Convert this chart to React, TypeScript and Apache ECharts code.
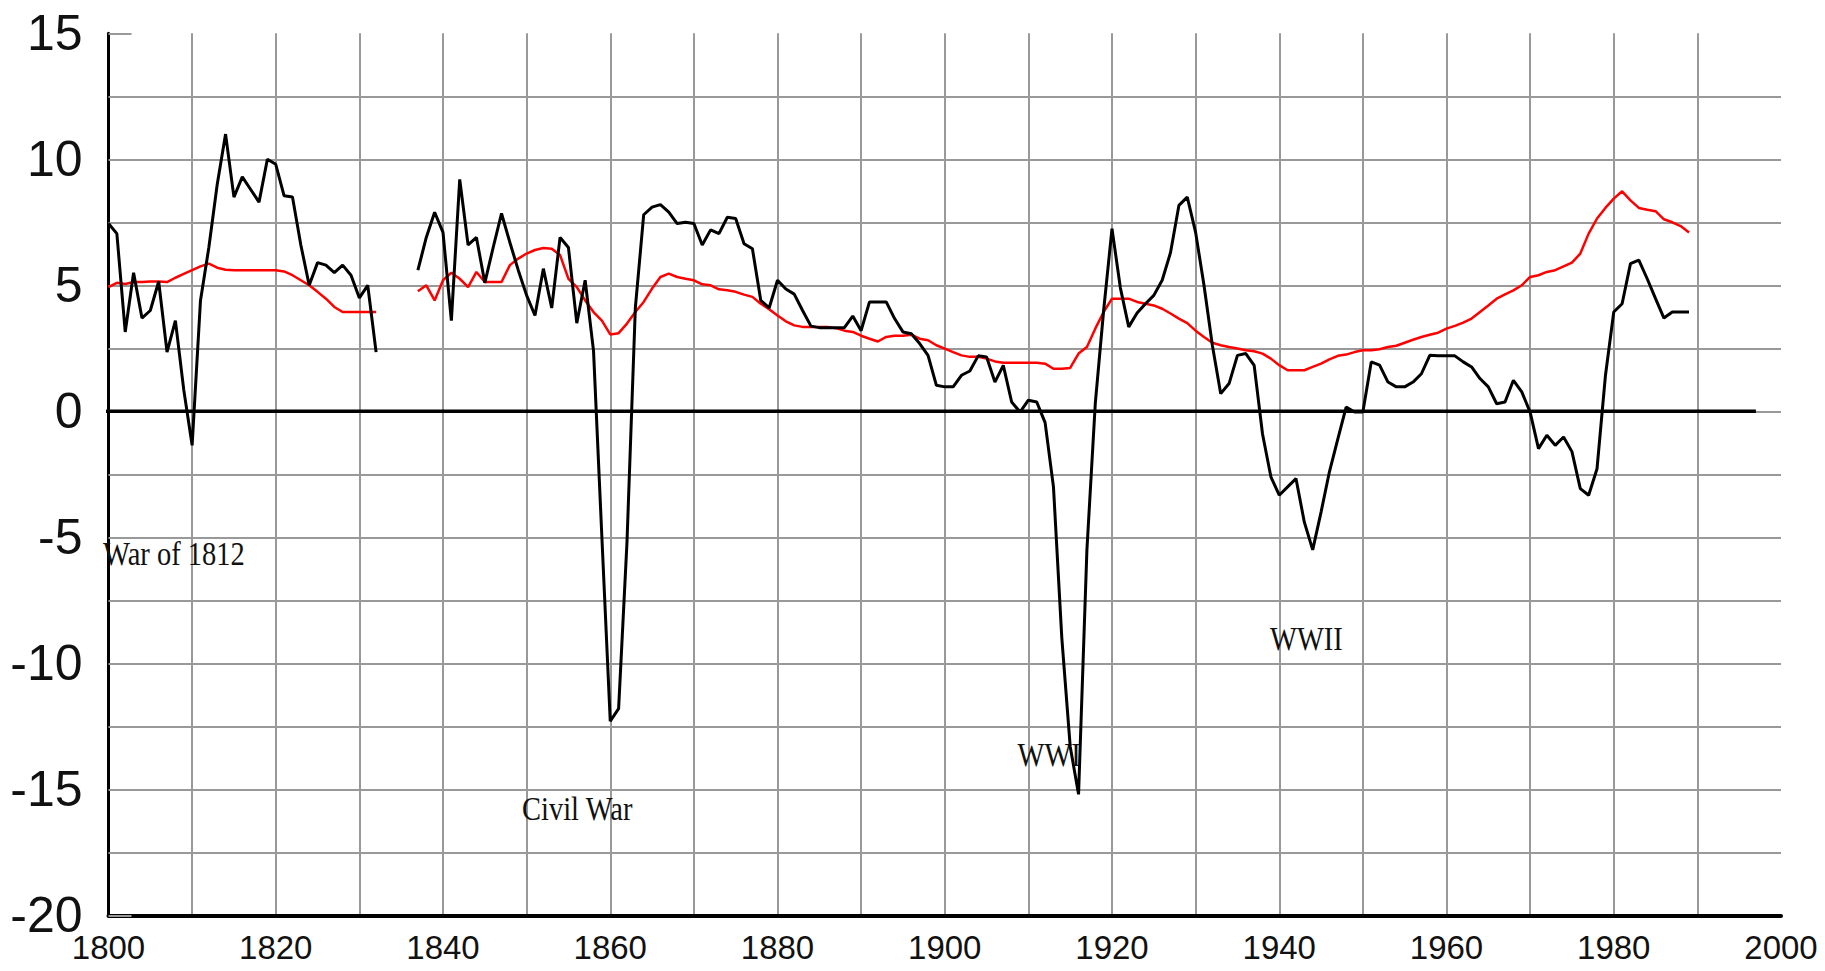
import React, { useEffect, useRef } from "react";
import * as echarts from "echarts";

// First segment: 1800-1832
const FIRST_START = 1800;
const actualFirst = [
  7.45, 7.05, 3.15, 5.5, 3.7, 4.0, 5.15, 2.35, 3.6, 0.85,
  -1.35, 4.4, 6.5, 9.0, 11.0, 8.5, 9.3, 8.8, 8.3, 10.0,
  9.8, 8.55, 8.5, 6.6, 5.0, 5.9, 5.8, 5.5, 5.8, 5.4,
  4.5, 5.0, 2.35,
];
const averageFirst = [
  4.93, 5.1, 5.05, 5.13, 5.13, 5.15, 5.15, 5.13, 5.3, 5.45,
  5.6, 5.75, 5.86, 5.7, 5.62, 5.6, 5.6, 5.6, 5.6, 5.6,
  5.6, 5.55, 5.4, 5.2, 5.0, 4.74, 4.47, 4.14, 3.94, 3.94,
  3.94, 3.94, 3.94,
];

// Second segment: 1837-1989
const SECOND_START = 1837;
const actualSecond = [
  5.6, 6.9, 7.9, 7.1, 3.6, 9.2, 6.6, 6.9, 5.1, 6.5,
  7.85, 6.7, 5.6, 4.6, 3.8, 5.66, 4.1, 6.9, 6.5, 3.5,
  5.2, 2.4, -5.0, -12.3, -11.8, -5.2, 4.1, 7.8, 8.1, 8.2,
  7.9, 7.45,
  7.5, 7.45, 6.6, 7.2, 7.05, 7.7, 7.65, 6.65, 6.45, 4.4,
  4.1, 5.2, 4.85, 4.65, 4.0, 3.38, 3.32, 3.32, 3.32, 3.32,
  3.78, 3.2, 4.34, 4.34, 4.34, 3.68, 3.15, 3.08, 2.69, 2.22,
  1.03, 0.97, 0.97, 1.43, 1.6,
  2.2, 2.16, 1.16, 1.82, 0.37, -0.03, 0.44, 0.37, -0.45, -3.0,
  -9.0, -13.3, -15.2, -5.5, 0.3, 4.0, 7.25, 4.9, 3.35, 3.9,
  4.27, 4.6, 5.2, 6.3, 8.17, 8.5, 7.1, 5.0, 2.62, 0.7,
  1.1, 2.22, 2.29, 1.82, -0.9,
  -2.6, -3.33, -3.0, -2.67, -4.4, -5.5, -4.0, -2.4, -1.1, 0.17,
  -0.03, -0.03, 1.96, 1.83, 1.16, 0.97, 0.97, 1.16, 1.49, 2.22,
  2.2, 2.2, 2.2, 1.96, 1.76, 1.3, 0.97, 0.3, 0.37, 1.23,
  0.77, -0.03, -1.48, -0.95, -1.35,
  -1.02, -1.6, -3.07, -3.33, -2.28, 1.4, 3.94, 4.27, 5.86, 6.0,
  5.26, 4.47, 3.7, 3.94, 3.94, 3.94,
];
const averageSecond = [
  4.76, 5.0, 4.4, 5.2, 5.5, 5.26, 4.93, 5.53, 5.13, 5.13,
  5.13, 5.8, 6.06, 6.26, 6.4, 6.48, 6.45, 6.2, 5.26, 4.93,
  4.4, 3.94, 3.6, 3.05, 3.1, 3.48, 3.94, 4.34, 4.87, 5.33,
  5.46, 5.33,
  5.26, 5.2, 5.04, 5.0, 4.84, 4.8, 4.74, 4.63, 4.54, 4.27,
  4.05, 3.8, 3.57, 3.41, 3.35, 3.35, 3.35, 3.35, 3.3, 3.2,
  3.15, 3.0, 2.88, 2.77, 2.95, 3.0, 3.0, 3.04, 2.88, 2.82,
  2.62, 2.49, 2.35, 2.22, 2.16,
  2.16, 2.09, 1.98, 1.93, 1.93, 1.93, 1.93, 1.93, 1.89, 1.69,
  1.69, 1.72, 2.29, 2.55, 3.28, 3.94, 4.47, 4.47, 4.47, 4.34,
  4.27, 4.2, 4.07, 3.88, 3.68, 3.5, 3.2, 2.95, 2.72, 2.62,
  2.55, 2.49, 2.42, 2.38, 2.29,
  2.09, 1.83, 1.63, 1.63, 1.63, 1.76, 1.89, 2.06, 2.2, 2.25,
  2.35, 2.42, 2.42, 2.46, 2.55, 2.6, 2.72, 2.84, 2.95, 3.04,
  3.12, 3.28, 3.39, 3.52, 3.68, 3.94, 4.2, 4.47, 4.64, 4.8,
  5.0, 5.33, 5.4, 5.53, 5.6,
  5.75, 5.9, 6.26, 7.05, 7.65, 8.07, 8.44, 8.73, 8.37, 8.07,
  8.0, 7.94, 7.62, 7.5, 7.35, 7.1,
];

const GAP_YEAR = 1835;

// Axis settings
const X_MIN = 1800;
const X_MAX = 2000;
const X_GRID_STEP = 10;
const X_LABEL_STEP = 20;
const Y_MIN = -20;
const Y_MAX = 15;
const Y_GRID_STEP = 2.5;
const Y_LABEL_STEP = 5;

// Zero reference line extent (years)
const zeroLineYears = [1797.3, 1997];

// Annotations: text, year (left edge), value (vertical centre)
const annotationTexts = ["War of 1812", "Civil War", "WWI", "WWII"];
const annotationYears = [1799.35, 1849.45, 1908.7, 1938.9];
const annotationValues = [-5.68, -15.8, -13.66, -9.03];

function buildSeries(start1: number, a: number[], start2: number, b: number[]) {
  const out: any[] = [];
  a.forEach((v, i) => out.push([start1 + i, v]));
  out.push([GAP_YEAR, null]);
  b.forEach((v, i) => out.push([start2 + i, v]));
  return out;
}

export default function App() {
  const ref = useRef<HTMLDivElement>(null);

  useEffect(() => {
    if (!ref.current) return;
    const chart = echarts.init(ref.current, null, { renderer: "svg" });

    const actualData = buildSeries(FIRST_START, actualFirst, SECOND_START, actualSecond);
    const averageData = buildSeries(FIRST_START, averageFirst, SECOND_START, averageSecond);
    const zeroData = zeroLineYears.map((y) => [y, 0]);

    const option: any = {
      animation: false,
      backgroundColor: "#ffffff",
      grid: {
        left: 108.5,
        right: 44,
        top: 33.3,
        bottom: 55.7,
        containLabel: false,
        outerBoundsMode: "none",
      },
      xAxis: {
        type: "value",
        min: X_MIN,
        max: X_MAX,
        interval: X_GRID_STEP,
        axisLine: { show: true, onZero: false, lineStyle: { color: "#000", width: 4 } },
        axisTick: { show: false },
        axisLabel: {
          formatter: (v: number) => (v % X_LABEL_STEP === 0 ? String(v) : ""),
          fontSize: 33,
          fontFamily: "Liberation Sans, Arial, sans-serif",
          color: "#111",
          margin: 16,
          showMaxLabel: true,
          showMinLabel: true,
        },
        splitLine: {
          show: true,
          showMinLine: false,
          showMaxLine: false,
          lineStyle: { color: "#999", width: 2 },
        },
      },
      yAxis: {
        type: "value",
        min: Y_MIN,
        max: Y_MAX,
        interval: Y_GRID_STEP,
        axisLine: { show: true, onZero: false, lineStyle: { color: "#000", width: 3 } },
        axisTick: { show: true, inside: true, length: 23, lineStyle: { color: "#999", width: 2 } },
        axisLabel: {
          formatter: (v: number) => (v % Y_LABEL_STEP === 0 ? String(v) : ""),
          fontSize: 50,
          fontFamily: "Liberation Sans, Arial, sans-serif",
          color: "#111",
          margin: 26,
        },
        splitLine: {
          show: true,
          showMinLine: false,
          showMaxLine: false,
          lineStyle: { color: "#999", width: 2 },
        },
      },
      series: [
        {
          type: "line",
          name: "Zero",
          data: zeroData,
          clip: false,
          symbol: "none",
          silent: true,
          lineStyle: { color: "#000", width: 3.5 },
          z: 2,
        },
        {
          type: "line",
          name: "Average",
          data: averageData,
          symbol: "none",
          connectNulls: false,
          lineStyle: { color: "#ff0000", width: 2.5 },
          z: 3,
        },
        {
          type: "line",
          name: "Actual",
          data: actualData,
          symbol: "none",
          connectNulls: false,
          lineStyle: { color: "#000", width: 3 },
          z: 4,
        },
      ],
    };
    chart.setOption(option);

    const graphics = annotationTexts.map((text, i) => {
      const p = chart.convertToPixel({ gridIndex: 0 }, [annotationYears[i], annotationValues[i]]) as number[];
      return {
        type: "text",
        x: p[0],
        y: p[1],
        z: 1,
        scaleY: 1.15,
        style: {
          text,
          fill: "#111",
          font: '28.5px "Liberation Serif", "Times New Roman", serif',
          align: "left",
          verticalAlign: "middle",
          textAlign: "left",
          textVerticalAlign: "middle",
        },
      };
    });
    chart.setOption({ graphic: graphics });

    return () => chart.dispose();
  }, []);

  return (
    <div
      ref={ref}
      style={{ position: "absolute", left: 0, top: 0, width: 1825, height: 971, background: "#fff" }}
    />
  );
}
